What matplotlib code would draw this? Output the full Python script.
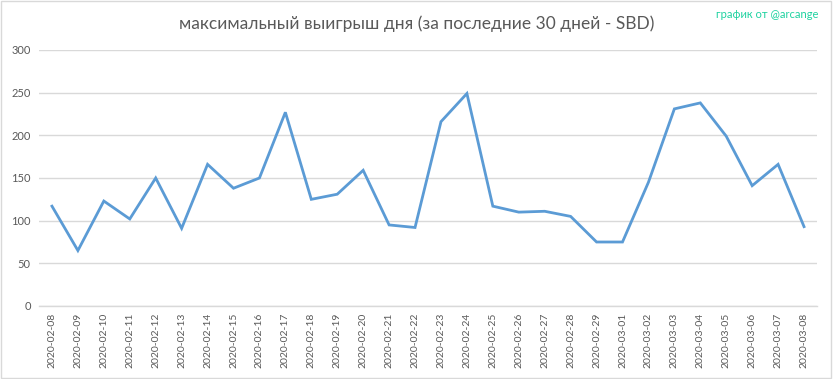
import matplotlib
matplotlib.use("Agg")
import matplotlib.pyplot as plt
from matplotlib.patches import Rectangle

dates = ["2020-02-08", "2020-02-09", "2020-02-10", "2020-02-11", "2020-02-12", "2020-02-13",
         "2020-02-14", "2020-02-15", "2020-02-16", "2020-02-17", "2020-02-18", "2020-02-19",
         "2020-02-20", "2020-02-21", "2020-02-22", "2020-02-23", "2020-02-24", "2020-02-25",
         "2020-02-26", "2020-02-27", "2020-02-28", "2020-02-29", "2020-03-01", "2020-03-02",
         "2020-03-03", "2020-03-04", "2020-03-05", "2020-03-06", "2020-03-07", "2020-03-08"]
values = [117, 65, 123, 102, 150, 91, 166, 138, 150, 227, 125, 131, 159, 95, 92,
          216, 249, 117, 110, 111, 105, 75, 75, 145, 231, 238, 199, 141, 166, 93]
yticks = [0, 50, 100, 150, 200, 250, 300]

title = "максимальный выигрыш дня (за последние 30 дней - SBD)"
credit = "график от @arcange"

plt.rcParams['font.family'] = ['Lato', 'DejaVu Sans']
fig = plt.figure(figsize=(8.33, 3.79), dpi=100)
fig.patches.append(Rectangle((0.001, 0.002), 0.997, 0.995, transform=fig.transFigure,
                             fill=False, edgecolor='#d9d9d9', linewidth=1.0))

ax = fig.add_axes([39/833, 1-306/379, (817-39)/833, (306-50)/379])
x = list(range(len(values)))
ax.plot(x, values, color='#5B9BD5', linewidth=2.0, solid_joinstyle='miter')
ax.set_xlim(-0.5, len(values) - 0.5)
ax.set_ylim(0, 300)
ax.set_yticks(yticks)
ax.set_yticklabels([str(v) for v in yticks], color='#595959', fontsize=8)
ax.set_xticks(x)
ax.set_xticklabels(dates, rotation=90, color='#595959', fontsize=7.5)
ax.tick_params(axis='both', length=0, pad=6)
ax.tick_params(axis='x', pad=5)
ax.grid(axis='y', color='#d9d9d9', linewidth=1.0)
ax.set_axisbelow(True)
for s in ['top', 'right', 'left']:
    ax.spines[s].set_visible(False)
ax.spines['bottom'].set_color('#d9d9d9')
ax.spines['bottom'].set_linewidth(1.0)

fig.text(0.5, 1-24/379, title, ha='center', va='center', fontsize=12.5,
         color='#595959')
fig.text(818/833, 1-14/379, credit, ha='right', va='center', fontsize=8, color='#1ed2a0')

fig.savefig("out.png", dpi=100)
